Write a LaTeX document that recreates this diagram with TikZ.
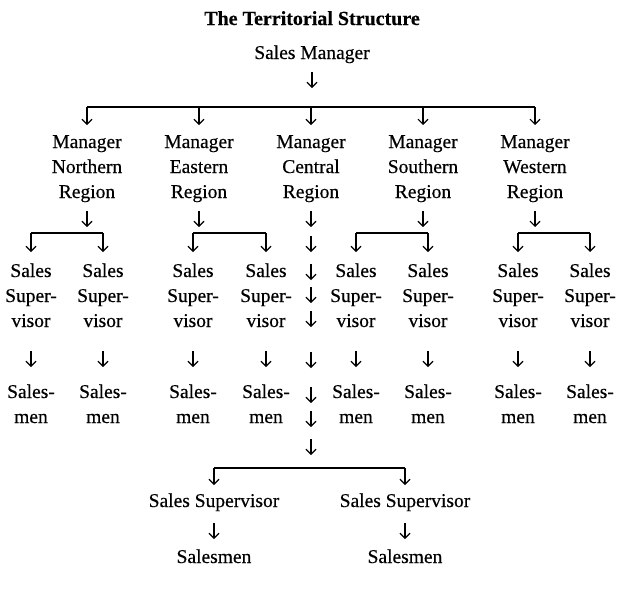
\documentclass[tikz,border=0pt]{standalone}
\usepackage{fontspec}
\setmainfont{Liberation Serif}[FakeBold=0.4]
\usetikzlibrary{arrows.meta}
\newcommand\mlines[1]{\begin{tabular}[t]{@{}c@{}}#1\end{tabular}}
\begin{document}
\begin{tikzpicture}[x=1pt,y=-1pt,
  txt/.style={anchor=base,inner sep=0pt,font=\fontsize{19.5}{25}\selectfont},
  ttl/.style={anchor=base,inner sep=0pt,font=\fontsize{20}{25}\selectfont\bfseries},
  arr/.style={line width=1.1pt,-{Straight Barb[length=5pt,width=10pt]}},
  brk/.style={line width=1.5pt}]
\useasboundingbox[fill=white] (0,0) rectangle (624,595);
% title and top
\node[ttl] (title) at (312,25) {The Territorial Structure};
\node[txt] (sm) at (312,59) {Sales Manager};
\coordinate (smA) at (312,72); \coordinate (smB) at (312,88);
\draw[arr] (smA) -- (smB);
% main bracket
\coordinate (mbL) at (87,107); \coordinate (mbR) at (535,107);
\draw[brk] (mbL) -- (mbR);
\foreach \n/\x in {N/87,E/199,C/311,S/423,W/535}{
  \coordinate (t\n) at (\x,107);
  \coordinate (h\n) at (\x,125);
  \draw[arr] (t\n) -- (h\n);
  \coordinate (ra\n) at (\x,211);
  \coordinate (rb\n) at (\x,227);
  \draw[arr] (ra\n) -- (rb\n);
}
% regional managers
\node[txt] (mN) at (87,148) {\mlines{Manager\\Northern\\Region}};
\node[txt] (mE) at (199,148) {\mlines{Manager\\Eastern\\Region}};
\node[txt] (mC) at (311,148) {\mlines{Manager\\Central\\Region}};
\node[txt] (mS) at (423,148) {\mlines{Manager\\Southern\\Region}};
\node[txt] (mW) at (535,148) {\mlines{Manager\\Western\\Region}};
% sub brackets
\foreach \n/\a/\b in {N/31/103,E/193/266,S/356/428,W/518/590}{
  \coordinate (sl\n) at (\a,233); \coordinate (sr\n) at (\b,233);
  \draw[brk] (sl\n) -- (sr\n);
  \coordinate (slh\n) at (\a,252); \coordinate (srh\n) at (\b,252);
  \draw[arr] (sl\n) -- (slh\n);
  \draw[arr] (sr\n) -- (srh\n);
  \node[txt] (ssl\n) at (\a,277) {\mlines{Sales\\Super-\\visor}};
  \node[txt] (ssr\n) at (\b,277) {\mlines{Sales\\Super-\\visor}};
  \coordinate (al\n) at (\a,351); \coordinate (alh\n) at (\a,367);
  \coordinate (ar\n) at (\b,351); \coordinate (arh\n) at (\b,367);
  \draw[arr] (al\n) -- (alh\n);
  \draw[arr] (ar\n) -- (arh\n);
  \node[txt] (sml\n) at (\a,398) {\mlines{Sales-\\men}};
  \node[txt] (smr\n) at (\b,398) {\mlines{Sales-\\men}};
}
% central chain
\foreach \i/\y in {1/236,2/264,3/287,4/311,5/352,6/387,7/411,8/439}{
  \coordinate (ca\i) at (311,\y);
  \coordinate (cb\i) at (311,\y+16);
  \draw[arr] (ca\i) -- (cb\i);
}
% bottom bracket
\coordinate (bbL) at (214,468); \coordinate (bbR) at (405,468);
\draw[brk] (bbL) -- (bbR);
\coordinate (bbLh) at (214,485); \coordinate (bbRh) at (405,485);
\draw[arr] (bbL) -- (bbLh);
\draw[arr] (bbR) -- (bbRh);
\node[txt] (bsL) at (214,507) {Sales Supervisor};
\node[txt] (bsR) at (405,507) {Sales Supervisor};
\coordinate (baL) at (214,523); \coordinate (baLh) at (214,539);
\coordinate (baR) at (405,523); \coordinate (baRh) at (405,539);
\draw[arr] (baL) -- (baLh);
\draw[arr] (baR) -- (baRh);
\node[txt] (bmL) at (214,563) {Salesmen};
\node[txt] (bmR) at (405,563) {Salesmen};
\end{tikzpicture}
\end{document}
